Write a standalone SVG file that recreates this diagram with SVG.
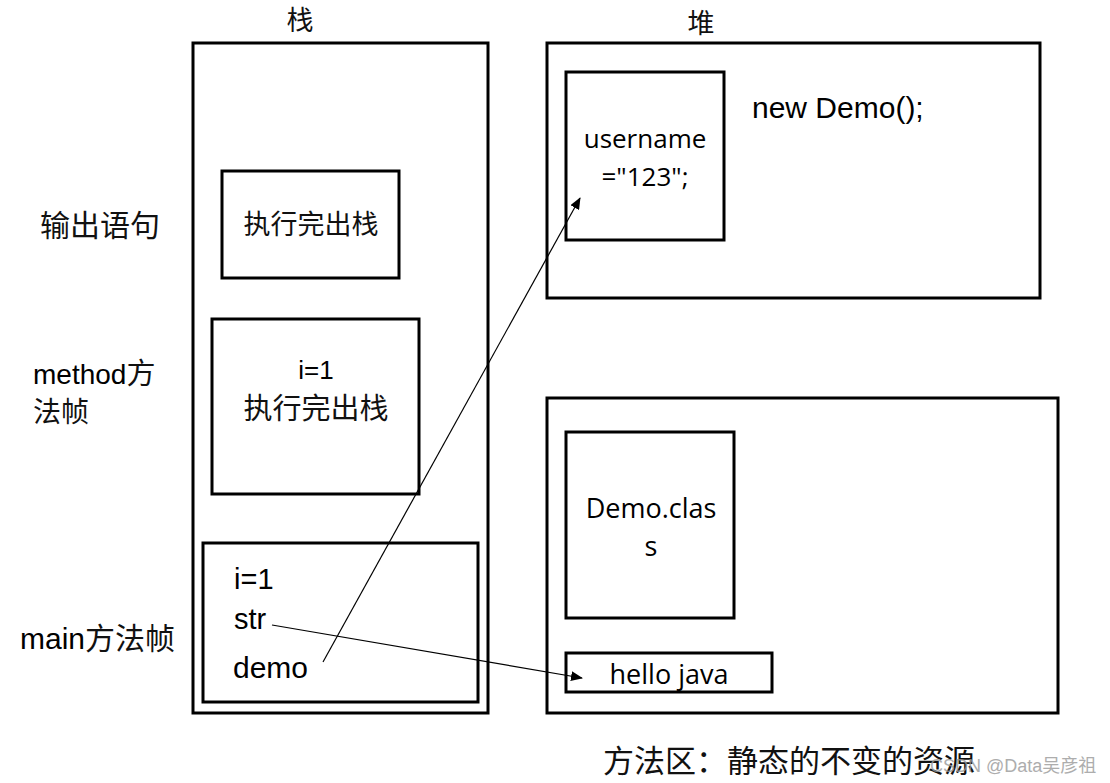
<svg xmlns="http://www.w3.org/2000/svg" width="1110" height="783" viewBox="0 0 1110 783">
<style>
.box{fill:#fff;stroke:#000;stroke-width:3}
.inner{fill:#fff;stroke:#000;stroke-width:3}
.cjk{font-family:"Noto Sans CJK SC",sans-serif;fill:#111}
.ar{font-family:"Liberation Sans",Arial,sans-serif;fill:#000}
.cal{font-family:"Open Sans","Liberation Sans",sans-serif;fill:#000}
.conn{stroke:#000;stroke-width:1.2;fill:none}
</style>
<defs>
<marker id="ah" markerWidth="12" markerHeight="10" refX="11" refY="5" orient="auto" markerUnits="userSpaceOnUse">
<path d="M0,0 L12,5 L0,10 Z" fill="#000"/>
</marker>
</defs>
<rect width="1110" height="783" fill="#fff"/>
<g id="stack">
<rect class="box" x="193" y="43" width="295" height="670"/>
<text class="cjk" x="300" y="30" font-size="27" text-anchor="middle">栈</text>
</g>
<g id="heap">
<rect class="box" x="547" y="43" width="493" height="255"/>
<text class="cjk" x="701" y="33" font-size="27" text-anchor="middle">堆</text>
<text class="ar" x="752" y="118" font-size="30">new Demo();</text>
</g>
<g id="username">
<rect class="inner" x="566" y="72" width="158" height="168"/>
<text class="cal" x="645" y="148" font-size="26" text-anchor="middle">username</text>
<text class="cal" x="645" y="186" font-size="26" text-anchor="middle">="123";</text>
</g>
<g id="print-frame">
<rect class="inner" x="222" y="171" width="177" height="107"/>
<text class="cjk" x="311" y="234" font-size="27" text-anchor="middle">执行完出栈</text>
</g>
<g id="method-frame">
<rect class="inner" x="212" y="319" width="207" height="175"/>
<text class="ar" x="316" y="379" font-size="26" text-anchor="middle">i=1</text>
<text class="cjk" x="316" y="419" font-size="29" text-anchor="middle">执行完出栈</text>
</g>
<g id="main-frame">
<rect class="inner" x="203" y="543" width="275" height="159"/>
<text class="ar" x="234" y="589" font-size="29">i=1</text>
<text class="ar" x="234" y="629" font-size="29">str</text>
<text class="ar" x="233" y="678" font-size="30">demo</text>
</g>
<g id="method-area">
<rect class="box" x="547" y="398" width="511" height="315"/>
<text class="cjk" x="603" y="772" font-size="31">方法区：静态的不变的资源</text>
</g>
<g id="demo-class">
<rect class="inner" x="566" y="432" width="168" height="186"/>
<text class="cal" x="651" y="518" font-size="27" text-anchor="middle">Demo.clas</text>
<text class="cal" x="651" y="556" font-size="27" text-anchor="middle">s</text>
</g>
<g id="hello-java">
<rect class="inner" x="566" y="653" width="206" height="39"/>
<text class="cal" x="669" y="684" font-size="27" text-anchor="middle">hello java</text>
</g>
<g id="labels">
<text class="cjk" x="40" y="236" font-size="30">输出语句</text>
<text class="ar" x="33" y="384" font-size="28">method<tspan class="cjk" font-size="29">方</tspan></text>
<text class="cjk" x="33" y="422" font-size="28">法帧</text>
<text class="ar" x="20" y="649" font-size="30">main<tspan class="cjk">方法帧</tspan></text>
<text x="930" y="772" font-size="18" font-family="Liberation Sans,Noto Sans CJK SC,sans-serif" fill="#999" opacity="0.8">CSDN @Data吴彦祖</text>
</g>
<g id="connectors">
<line class="conn" x1="323" y1="662" x2="580" y2="198" marker-end="url(#ah)"/>
<line class="conn" x1="272" y1="625" x2="582" y2="678" marker-end="url(#ah)"/>
</g>
</svg>
